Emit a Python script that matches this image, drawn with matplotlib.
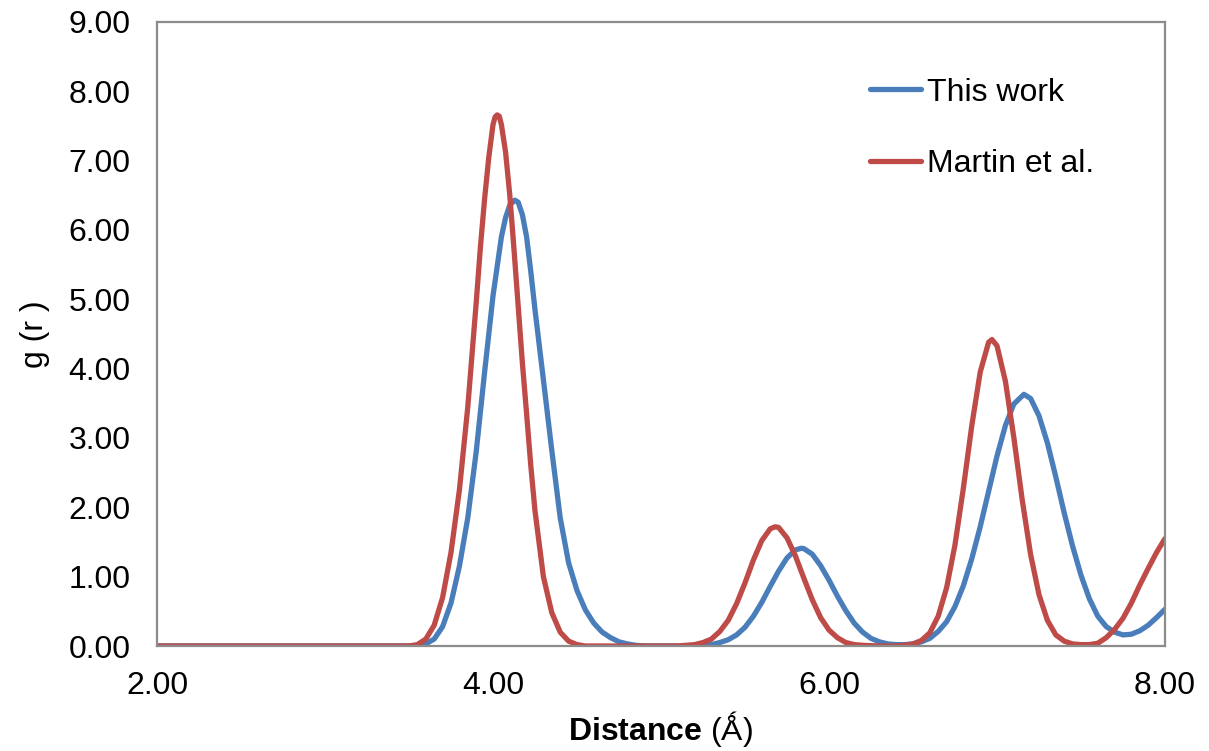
import matplotlib
matplotlib.use("Agg")
import matplotlib.pyplot as plt

# Radial distribution function g(r) versus distance (Å)
x_this = [2.00, 3.00, 3.50, 3.55, 3.60, 3.65, 3.70, 3.75, 3.80, 3.85, 3.90, 3.95, 4.00, 4.05,
          4.075, 4.10, 4.13, 4.15, 4.175, 4.20, 4.225, 4.25, 4.30, 4.35, 4.40, 4.45, 4.50, 4.55,
          4.60, 4.65, 4.70, 4.75, 4.80, 4.85, 4.90, 5.00, 5.10, 5.20, 5.25, 5.30, 5.35, 5.40,
          5.45, 5.50, 5.55, 5.60, 5.65, 5.70, 5.75, 5.80, 5.835, 5.85, 5.90, 5.95, 6.00, 6.05,
          6.10, 6.15, 6.20, 6.25, 6.30, 6.35, 6.40, 6.45, 6.50, 6.55, 6.60, 6.65, 6.70, 6.75,
          6.80, 6.85, 6.90, 6.95, 7.00, 7.05, 7.10, 7.16, 7.20, 7.25, 7.30, 7.35, 7.40, 7.45,
          7.50, 7.55, 7.60, 7.65, 7.70, 7.75, 7.80, 7.85, 7.90, 7.95, 8.00]
g_this = [0.00, 0.00, 0.00, 0.00, 0.03, 0.10, 0.28, 0.62, 1.15, 1.85, 2.80, 3.95, 5.05, 5.90,
          6.18, 6.36, 6.43, 6.40, 6.22, 5.90, 5.40, 4.85, 3.84, 2.82, 1.85, 1.20, 0.80, 0.52,
          0.33, 0.20, 0.12, 0.06, 0.03, 0.01, 0.00, 0.00, 0.00, 0.00, 0.01, 0.02, 0.05, 0.09,
          0.16, 0.27, 0.43, 0.63, 0.86, 1.08, 1.27, 1.385, 1.41, 1.405, 1.325, 1.16, 0.95, 0.72,
          0.51, 0.33, 0.20, 0.11, 0.06, 0.03, 0.02, 0.02, 0.03, 0.06, 0.11, 0.21, 0.35, 0.57,
          0.87, 1.26, 1.72, 2.23, 2.74, 3.18, 3.49, 3.63, 3.57, 3.32, 2.93, 2.44, 1.92, 1.44,
          1.02, 0.68, 0.43, 0.28, 0.20, 0.16, 0.17, 0.22, 0.30, 0.41, 0.53]

x_martin = [2.00, 3.00, 3.45, 3.50, 3.55, 3.60, 3.65, 3.70, 3.75, 3.80, 3.85, 3.90, 3.925, 3.95,
            3.975, 4.00, 4.0125, 4.025, 4.0375, 4.05, 4.075, 4.10, 4.125, 4.15, 4.175, 4.20,
            4.225, 4.25, 4.30, 4.35, 4.40, 4.45, 4.50, 4.55, 4.80, 5.00, 5.10, 5.15, 5.20, 5.25,
            5.30, 5.35, 5.40, 5.45, 5.50, 5.55, 5.60, 5.65, 5.68, 5.70, 5.75, 5.80, 5.85, 5.90,
            5.95, 6.00, 6.05, 6.10, 6.15, 6.20, 6.30, 6.40, 6.45, 6.50, 6.55, 6.60, 6.65, 6.70,
            6.75, 6.80, 6.85, 6.90, 6.95, 6.97, 7.00, 7.05, 7.10, 7.15, 7.20, 7.25, 7.30, 7.35,
            7.40, 7.45, 7.50, 7.55, 7.60, 7.65, 7.70, 7.75, 7.80, 7.85, 7.90, 7.95, 8.00]
g_martin = [0.00, 0.00, 0.00, 0.00, 0.02, 0.10, 0.30, 0.70, 1.35, 2.25, 3.45, 4.95, 5.75, 6.45,
            7.05, 7.52, 7.63, 7.66, 7.64, 7.52, 7.12, 6.50, 5.72, 4.90, 4.08, 3.35, 2.60, 1.95,
            1.00, 0.48, 0.20, 0.07, 0.02, 0.00, 0.00, 0.00, 0.00, 0.01, 0.02, 0.05, 0.10, 0.21,
            0.37, 0.61, 0.91, 1.24, 1.52, 1.69, 1.72, 1.71, 1.56, 1.30, 0.98, 0.67, 0.41, 0.23,
            0.12, 0.05, 0.02, 0.01, 0.00, 0.00, 0.01, 0.03, 0.08, 0.19, 0.43, 0.84, 1.46, 2.28,
            3.18, 3.95, 4.38, 4.42, 4.33, 3.82, 3.01, 2.11, 1.32, 0.74, 0.37, 0.16, 0.07, 0.03,
            0.02, 0.02, 0.04, 0.12, 0.24, 0.40, 0.62, 0.88, 1.12, 1.35, 1.55]

series_labels = ["This work", "Martin et al."]
series_colors = ["#4A7EBB", "#BE4B48"]
x_ticks = [2.0, 4.0, 6.0, 8.0]
y_ticks = [0, 1, 2, 3, 4, 5, 6, 7, 8, 9]

plt.rcParams["font.family"] = ["Liberation Sans", "DejaVu Sans"]
plt.rcParams["mathtext.fontset"] = "custom"
plt.rcParams["mathtext.bf"] = "Liberation Sans:bold"
plt.rcParams["mathtext.rm"] = "Liberation Sans"

fig = plt.figure(figsize=(12.09, 7.51), dpi=100)
ax = fig.add_axes([157 / 1209, 1 - 646 / 751, (1165 - 157) / 1209, (646 - 22) / 751])

ax.plot(x_this, g_this, color=series_colors[0], lw=3.8, label=series_labels[0],
        solid_capstyle="round", solid_joinstyle="round")
ax.plot(x_martin, g_martin, color=series_colors[1], lw=3.8, label=series_labels[1],
        solid_capstyle="round", solid_joinstyle="round")

ax.set_xlim(2, 8)
ax.set_ylim(0, 9)
ax.set_xticks(x_ticks)
ax.set_xticklabels([f"{v:.2f}" for v in x_ticks])
ax.set_yticks(y_ticks)
ax.set_yticklabels([f"{v:.2f}" for v in y_ticks])
ax.tick_params(axis="both", length=0, labelsize=23)
ax.tick_params(axis="x", pad=18)
ax.tick_params(axis="y", pad=19)

for side in ["left", "right", "top", "bottom"]:
    ax.spines[side].set_color("#8C8C8C")
    ax.spines[side].set_linewidth(1.6)

ax.set_xlabel(r"$\bf{Distance}$ (Ǻ)", fontsize=23, labelpad=6)
ax.set_ylabel("g (r )", fontsize=23, labelpad=13)

leg = ax.legend(loc="upper left", bbox_to_anchor=(0.707, 0.911), frameon=False,
                fontsize=23, handlelength=1.6, handletextpad=0.2, labelspacing=1.3,
                borderpad=0, borderaxespad=0)

fig.savefig("out.png", dpi=100, facecolor="white")
